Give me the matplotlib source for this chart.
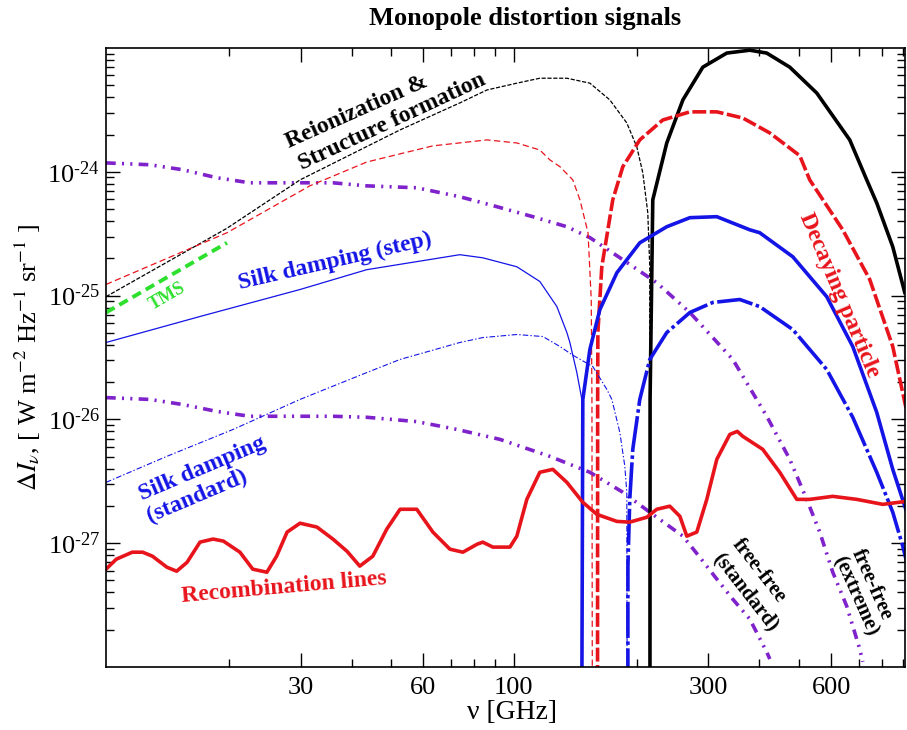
import numpy as np
import matplotlib
matplotlib.use('Agg')
import matplotlib.pyplot as plt
from matplotlib.ticker import LogLocator, NullFormatter

# frequencies in GHz, intensities in W m^-2 Hz^-1 sr^-1
reion_neg_nu = [10.0, 19.8, 29.9, 52.6, 73.7, 85.9, 101.7, 115.8, 134.9, 153.6, 171.9, 189.2, 200.2, 207.1, 213.0, 215.4, 215.6]
reion_neg_I = [9.8e-26, 3.5e-25, 8.6e-25, 2.18e-24, 3.6e-24, 4.58e-24, 5.2e-24, 5.7e-24, 5.7e-24, 5.2e-24, 3.81e-24, 2.48e-24, 1.59e-24, 9.8e-25, 4.67e-25, 1.71e-25, 1e-30]
reion_pos_nu = [215.5, 215.8, 219.1, 237.1, 259.7, 290.6, 332.7, 378.8, 416.9, 474.8, 552.9, 666.1, 733.2, 775.8, 849.2, 908.7]
reion_pos_I = [1e-30, 1.5e-26, 5.94e-25, 1.71e-24, 3.81e-24, 7.0e-24, 9.1e-24, 9.6e-24, 9.1e-24, 7.0e-24, 4.33e-24, 1.81e-24, 8.6e-25, 5.6e-25, 2.48e-25, 1.06e-25]

decay_neg_nu = [10.0, 19.8, 31.6, 43.6, 63.3, 85.9, 101.7, 115.8, 122.5, 129.7, 139.5, 145.2, 152.0, 154.8, 155.4, 156.0]
decay_neg_I = [1.23e-25, 3.22e-25, 7.7e-25, 1.2e-24, 1.62e-24, 1.81e-24, 1.71e-24, 1.5e-24, 1.25e-24, 1.1e-24, 8.6e-25, 5.94e-25, 3.22e-25, 9.3e-26, 1.45e-26, 1e-30]
decay_pos_nu = [160.3, 160.5, 160.7, 164.3, 174.8, 185.0, 203.6, 231.8, 270.1, 314.5, 364.2, 424.2, 502.3, 531.5, 640.3, 745.7, 849.2, 919.0]
decay_pos_I = [1e-30, 1.45e-26, 5.03e-26, 1.71e-25, 5.94e-25, 1.1e-24, 1.81e-24, 2.62e-24, 3.05e-24, 3.05e-24, 2.72e-24, 2.06e-24, 1.35e-24, 8.6e-25, 3.4e-25, 1.35e-25, 3.88e-26, 1.16e-26]

silk_step_neg_nu = [10.0, 17.0, 29.9, 43.6, 73.7, 83.9, 101.7, 115.8, 127.5, 134.9, 137.2, 142.7, 146.8, 147.0]
silk_step_neg_I = [4.18e-26, 6.78e-26, 1.12e-25, 1.62e-25, 2.14e-25, 2.02e-25, 1.71e-25, 1.3e-25, 8.15e-26, 5.03e-26, 4.18e-26, 2.39e-26, 1.45e-26, 1e-30]
silk_step_pos_nu = [146.2, 147.6, 153.6, 162.5, 178.9, 203.6, 237.1, 270.1, 314.5, 378.8, 400.7, 482.9, 585.0, 677.5, 775.8, 849.2, 919.0]
silk_step_pos_I = [1e-30, 1.45e-26, 3.67e-26, 7.7e-26, 1.53e-25, 2.67e-25, 3.6e-25, 4.26e-25, 4.34e-25, 3.4e-25, 3.22e-25, 2.06e-25, 9.8e-26, 3.88e-26, 1.14e-26, 3.95e-27, 1.78e-27]

silk_std_neg_nu = [10.0, 14.1, 20.5, 29.9, 43.6, 52.6, 73.7, 83.9, 101.7, 117.8, 129.7, 139.5, 156.2, 169.0, 173.9, 181.9, 187.1, 189.2, 190.0]
silk_std_neg_I = [3.1e-27, 5.03e-27, 8.3e-27, 1.45e-26, 2.39e-26, 3.05e-26, 4.18e-26, 4.58e-26, 4.85e-26, 4.67e-26, 3.88e-26, 3.3e-26, 2.67e-26, 1.75e-26, 1.45e-26, 7.85e-27, 4.18e-27, 2.58e-27, 1e-30]
silk_std_pos_nu = [190.3, 190.4, 192.4, 195.7, 203.6, 215.4, 237.1, 270.1, 307.4, 358.1, 400.7, 482.9, 585.0, 677.5, 775.8, 849.2, 898.5, 919.0]
silk_std_pos_I = [1e-30, 6.53e-28, 2.26e-27, 5.73e-27, 1.45e-26, 3.05e-26, 5.03e-26, 7.3e-26, 8.8e-26, 9.3e-26, 8.15e-26, 5.32e-26, 2.53e-26, 1.04e-26, 3.74e-27, 1.78e-27, 9.46e-28, 7.0e-28]

ff_ext_nu = [10.0, 12.8, 15.4, 18.7, 22.5, 29.9, 36.0, 43.6, 57.8, 73.7, 87.3, 111.3, 134.9, 153.6, 185.0, 224.1, 270.1, 344.2, 416.9, 474.8, 522.5, 562.3, 605.2, 654.9, 704.7, 716.8]
ff_ext_I = [1.18e-24, 1.14e-24, 1.04e-24, 8.95e-25, 8.15e-25, 8.15e-25, 8.15e-25, 7.7e-25, 7.43e-25, 6.29e-25, 5.42e-25, 4.34e-25, 3.6e-25, 2.94e-25, 1.95e-25, 1.27e-25, 7.3e-26, 3.05e-26, 1.06e-26, 4.76e-27, 2.26e-27, 1.23e-27, 5.83e-28, 3.1e-28, 1.4e-28, 1.1e-28]
ff_std_nu = [10.0, 12.8, 15.4, 18.7, 22.5, 29.9, 36.0, 43.6, 57.8, 72.5, 92.4, 122.5, 153.6, 185.0, 215.4, 259.7, 285.7, 314.5, 344.2, 378.8, 416.9, 424.2]
ff_std_I = [1.5e-26, 1.45e-26, 1.32e-26, 1.16e-26, 1.06e-26, 1.06e-26, 1.06e-26, 1.04e-26, 9.6e-27, 8.3e-27, 6.9e-27, 5.03e-27, 3.74e-27, 2.58e-27, 1.78e-27, 1.14e-27, 7.7e-28, 5.13e-28, 3.53e-28, 2.44e-28, 1.32e-28, 1.16e-28]

recomb_nu = [10.0, 10.6, 11.6, 12.3, 13.0, 14.1, 14.9, 15.8, 17.0, 18.3, 19.4, 21.3, 22.9, 24.8, 26.2,
             27.8, 29.9, 32.9, 36.0, 39.0, 41.9, 45.1, 48.8, 52.6, 57.8, 63.3, 69.7, 75.0, 81.2, 83.9,
             88.8, 97.8, 101.7, 107.6, 115.8, 124.6, 134.9, 147.6, 159.8, 178.9, 192.4, 211.8, 224.1, 241.2, 255.3,
             265.5, 280.9, 297.2, 314.5, 338.4, 353.0, 364.2, 407.6, 448.7, 494.0, 531.5, 605.2, 692.9, 802.6, 919.0]
recomb_I = [6.17e-28, 7.43e-28, 8.46e-28, 8.46e-28, 7.85e-28, 6.4e-28, 5.94e-28, 7.0e-28, 1.02e-27, 1.08e-27,
            1.04e-27, 8.46e-28, 6.17e-28, 5.83e-28, 7.85e-28, 1.23e-27, 1.45e-27, 1.35e-27, 1.08e-27, 8.6e-28,
            6.53e-28, 7.85e-28, 1.3e-27, 1.88e-27, 1.88e-27, 1.23e-27, 8.95e-28, 8.46e-28, 9.8e-28, 1.02e-27,
            9.3e-28, 9.3e-28, 1.14e-27, 2.26e-27, 3.74e-27, 3.95e-27, 3.1e-27, 2.14e-27, 1.71e-27, 1.5e-27,
            1.48e-27, 1.62e-27, 1.88e-27, 1.99e-27, 1.65e-27, 1.14e-27, 1.23e-27, 2.26e-27, 4.76e-27, 7.56e-27,
            8.0e-27, 7.3e-27, 5.73e-27, 3.74e-27, 2.26e-27, 2.26e-27, 2.39e-27, 2.26e-27, 2.06e-27, 2.18e-27]

tms_nu = [10.0, 19.8]
tms_I = [7.3e-26, 2.67e-25]

x_major = [30, 60, 100, 300, 600]
x_minor = [20, 40, 50, 70, 80, 90, 200, 400, 500, 700, 800, 900]
y_exps = [-27, -26, -25, -24]

RED = '#e8141c'
BLUE = '#1414e6'
PURPLE = '#7f22cc'
GREEN = '#2ee02e'

plt.rcParams['font.family'] = ['Liberation Serif', 'DejaVu Serif']
plt.rcParams['mathtext.fontset'] = 'stix'
plt.rcParams['axes.unicode_minus'] = False
plt.rcParams['lines.scale_dashes'] = False

fig = plt.figure(figsize=(9.07, 7.30), dpi=100)
ax = fig.add_axes([106 / 907, 63 / 730, 799 / 907, 619 / 730])

thin, thick = 0.9, 2.6
ddot = (0, (7, 4.5, 1.5, 4.5, 1.5, 4.5))

# free-free
ax.plot(ff_ext_nu, ff_ext_I, color=PURPLE, lw=thick, ls=ddot)
ax.plot(ff_std_nu, ff_std_I, color=PURPLE, lw=thick, ls=ddot)

# reionization / structure formation
ax.plot(reion_neg_nu, reion_neg_I, color='k', lw=thin, ls=(0, (3, 1.2)))
ax.plot(reion_pos_nu, reion_pos_I, color='k', lw=thick)

# decaying particle
ax.plot(decay_neg_nu, decay_neg_I, color=RED, lw=thin, ls=(0, (4.5, 2.5)))
ax.plot(decay_pos_nu, decay_pos_I, color=RED, lw=thick, ls=(0, (10, 2.5)))

# silk damping
ax.plot(silk_step_neg_nu, silk_step_neg_I, color=BLUE, lw=thin)
ax.plot(silk_step_pos_nu, silk_step_pos_I, color=BLUE, lw=thick)
ax.plot(silk_std_neg_nu, silk_std_neg_I, color=BLUE, lw=0.8, ls=(0, (4, 1.5, 1, 1.5)))
ax.plot(silk_std_pos_nu, silk_std_pos_I, color=BLUE, lw=thick, ls=(0, (26, 2.5, 2.5, 2.5)))

# recombination lines and TMS
ax.plot(recomb_nu, recomb_I, color=RED, lw=thick)
ax.plot(tms_nu, tms_I, color=GREEN, lw=2.8, ls=(0, (7, 4)))

ax.set_xscale('log')
ax.set_yscale('log')
ax.set_xlim(10, 910)
ax.set_ylim(1e-28, 1e-23)

ax.set_xticks(x_major, labels=[str(v) for v in x_major])
ax.set_xticks(x_minor, minor=True)
ax.xaxis.set_minor_formatter(NullFormatter())
ax.set_yticks([10.0 ** e for e in y_exps],
              labels=[r'$\mathdefault{10^{\text{-}%d}}$' % -e for e in y_exps])
ax.yaxis.set_minor_locator(LogLocator(base=10, subs=np.arange(2, 10), numticks=50))
ax.yaxis.set_minor_formatter(NullFormatter())

ax.tick_params(which='both', direction='in', top=True, right=True, width=1.0)
ax.tick_params(which='major', length=10, labelsize=19)
ax.tick_params(axis='x', which='major', pad=7)
ax.tick_params(axis='y', which='major', pad=4)
ax.tick_params(which='minor', length=5.5)
for sp in ax.spines.values():
    sp.set_linewidth(1.2)

ax.set_xlabel('ν [GHz]', fontsize=20)
ax.xaxis.set_label_coords(0.508, -0.054)
ax.set_ylabel(r'$\Delta I_{\nu}$, [ W m$^{-2}$ Hz$^{-1}$ sr$^{-1}$ ]', fontsize=19)
ax.yaxis.set_label_coords(-0.079, 0.5)

fig.text(0.579, 0.975, 'Monopole distortion signals', ha='center', va='center',
         fontsize=19, fontweight='bold')

lab = dict(ha='center', va='center', rotation_mode='anchor', fontweight='bold')
ax.text(41.2, 3.05e-24, 'Reionization &', rotation=24, fontsize=17, **lab)
ax.text(50.2, 2.53e-24, 'Structure formation', rotation=25, fontsize=17, **lab)
ax.text(14.1, 9.8e-26, 'TMS', color=GREEN, rotation=30, fontsize=13, **lab)
ax.text(36.4, 1.88e-25, 'Silk damping (step)', color=BLUE, rotation=13, fontsize=17, **lab)
ax.text(17.2, 3.95e-27, 'Silk damping', color=BLUE, rotation=23, fontsize=17, **lab)
ax.text(16.7, 2.39e-27, '(standard)', color=BLUE, rotation=23, fontsize=17, **lab)
ax.text(27.3, 4.42e-28, 'Recombination lines', color=RED, rotation=5, fontsize=17, **lab)
ax.text(626, 1.0e-25, 'Decaying particle', color=RED, rotation=-67, fontsize=17, **lab)
ax.text(398.6, 5.94e-28, 'free-free', rotation=-52, fontsize=15, **lab)
ax.text(370, 4.03e-28, '(standard)', rotation=-52, fontsize=15, **lab)
ax.text(754, 4.67e-28, 'free-free', rotation=-66, fontsize=15, **lab)
ax.text(685, 3.74e-28, '(extreme)', rotation=-66, fontsize=15, **lab)

fig.savefig('out.png', dpi=100)
